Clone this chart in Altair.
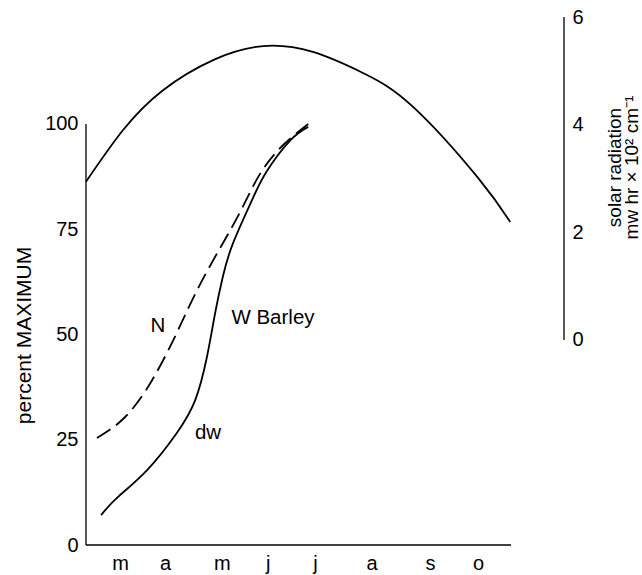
import json
import altair as alt
import pandas as pd

# ---------------- data ----------------
month_ticks = [3.0, 3.88, 4.99, 5.89, 6.81, 7.92, 9.06, 10.0]
month_labels = ["m", "a", "m", "j", "j", "a", "s", "o"]

# solar radiation (right axis, mw hr x 10^2 cm^-1)
sun_month = [2.335, 3.06, 3.84, 4.82, 5.80, 6.77, 7.75, 8.73, 10.0, 10.63]
sun_value = [2.94, 3.90, 4.64, 5.20, 5.46, 5.35, 4.96, 4.33, 3.01, 2.19]

# N (dashed, percent maximum)
n_month = [2.55, 3.10, 3.63, 4.11, 4.51, 4.96, 5.37, 5.74, 6.19, 6.68]
n_value = [25.4, 30.4, 39.2, 50.4, 60.6, 70.6, 79.6, 88.2, 95.0, 100.0]

# dw (solid, percent maximum)
dw_month = [2.63, 2.94, 3.53, 4.11, 4.47, 4.70, 4.86, 5.01, 5.21, 5.58, 5.86, 6.32, 6.68]
dw_value = [7.1, 11.2, 17.8, 26.6, 34.4, 44.7, 55.1, 63.7, 71.7, 81.9, 88.6, 96.0, 99.3]

label_text = ["N", "W Barley", "dw"]
label_month = [3.74, 5.99, 4.72]
label_value = [52.0, 53.9, 26.6]

left_ticks = [0, 25, 50, 75, 100]
right_ticks = [0, 2, 4, 6]

# ---------------- frame ----------------
X_MIN, X_MAX, X_AXIS_END = 2.335, 11.68, 10.645
FONT = "Liberation Sans"
FS = 20

x_scale = alt.Scale(domain=[X_MIN, X_MAX], nice=False, zero=False)
left_scale = alt.Scale(domain=[0, 125.4], nice=False, zero=False)
right_scale = alt.Scale(domain=[-3.81, 6], nice=False, zero=False)

label_expr = "{}[indexof({}, datum.value)]".format(json.dumps(month_labels), json.dumps(month_ticks))
x_axis = alt.Axis(values=month_ticks, labelExpr=label_expr, domain=False, ticks=False,
                  grid=False, title=None, labelPadding=8, labelOverlap=False, labelFlush=False)
left_axis = alt.Axis(values=left_ticks, orient="left", domain=False, ticks=False, grid=False,
                     labelPadding=8, title="percent MAXIMUM", titleAngle=270, titleFontSize=21,
                     titleX=-62, titleY=318, titleAlign="center", titleBaseline="middle")
right_axis = alt.Axis(values=right_ticks, orient="right", domain=False, ticks=False, grid=False,
                      labelPadding=8, title=["solar radiation", "mw hr × 10² cm⁻¹"],
                      titleAngle=270, titleX=50, titleY=150, titleAlign="center",
                      titleBaseline="middle", titleLineHeight=17, titleFontSize=19)

sun_df = pd.DataFrame({"month": sun_month, "value": sun_value})
n_df = pd.DataFrame({"month": n_month, "value": n_value})
dw_df = pd.DataFrame({"month": dw_month, "value": dw_value})
lab_df = pd.DataFrame({"month": label_month, "value": label_value, "label": label_text})
left_frame = pd.DataFrame({"month": [X_MIN], "value": [0], "value2": [100]})
bottom_frame = pd.DataFrame({"month": [X_MIN], "month2": [X_AXIS_END], "value": [0]})
right_frame = pd.DataFrame({"month": [X_MAX], "value": [0], "value2": [6]})

X = alt.X("month:Q", scale=x_scale, axis=x_axis)
YL = alt.Y("value:Q", scale=left_scale, axis=left_axis)
YR = alt.Y("value:Q", scale=right_scale, axis=right_axis)

line_kw = dict(color="black", strokeWidth=1.8, interpolate="natural")

n_line = alt.Chart(n_df).mark_line(strokeDash=[16, 7], **line_kw).encode(x=X, y=YL)
dw_line = alt.Chart(dw_df).mark_line(**line_kw).encode(x=X, y=YL)
labels = alt.Chart(lab_df).mark_text(font=FONT, fontSize=20.5, color="black").encode(
    x=X, y=YL, text="label:N")
left_rule = alt.Chart(left_frame).mark_rule(color="black", strokeWidth=1.3).encode(
    x=X, y=YL, y2="value2:Q")
bottom_rule = alt.Chart(bottom_frame).mark_rule(color="black", strokeWidth=1.3).encode(
    x=X, x2="month2:Q", y=YL)

left_group = alt.layer(left_rule, bottom_rule, n_line, dw_line, labels)

sun_line = alt.Chart(sun_df).mark_line(**line_kw).encode(x=X, y=YR)
right_rule = alt.Chart(right_frame).mark_rule(color="black", strokeWidth=1.3).encode(
    x=X, y=YR, y2="value2:Q")
right_group = alt.layer(right_rule, sun_line)

chart = (
    alt.layer(left_group, right_group)
    .resolve_scale(y="independent")
    .properties(width=478, height=528,
                padding={"left": 86, "top": 17, "right": 78, "bottom": 30},
                autosize=alt.AutoSizeParams(type="none"), background="white")
    .configure_view(stroke=None)
    .configure_axis(labelFont=FONT, labelFontSize=FS, labelColor="black",
                    titleFont=FONT, titleColor="black", titleFontWeight="normal")
)

chart.save("out.html", embed_options={"renderer": "svg", "actions": False})
